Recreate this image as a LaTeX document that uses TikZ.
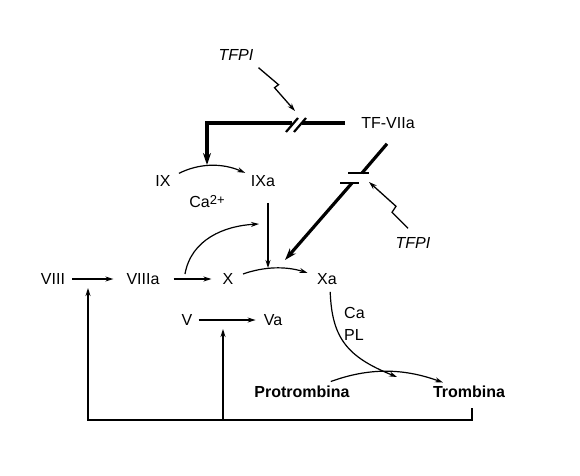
\documentclass[tikz,border=0pt]{standalone}
\usepackage{fontspec}
\setmainfont{Liberation Sans}
\usetikzlibrary{arrows.meta}

\begin{document}
\begin{tikzpicture}[
    x=1pt, y=1pt,
    lbl/.style={inner sep=1pt, font=\fontsize{16}{22}\selectfont},
    tfpi/.style={inner sep=1pt, font=\fontsize{16}{22}\selectfont\itshape},
    prod/.style={inner sep=1pt, font=\fontsize{16}{22}\selectfont\bfseries},
    arrow/.style={-{Stealth[length=8pt,width=5pt]}, line width=1.2pt},
    line/.style={line width=1.2pt},
    heavy/.style={line width=3.2pt},
    heavyarrow/.style={heavy, -{Stealth[length=12pt,width=8pt]}},
    zap/.style={-{Stealth[length=8pt,width=5pt]}, line width=1.3pt},
    cut/.style={line width=2.2pt}
  ]
    \useasboundingbox (0,0) rectangle (580,475);

    % factors
    \node[tfpi] (tfpiA) at (236,420) {TFPI};
    \node[lbl] (tfvii) at (388,352) {TF-VIIa};
    \node[tfpi] (tfpiB) at (413,232) {TFPI};
    \node[lbl] (ix) at (163,294) {IX};
    \node[lbl] (ixa) at (263,294) {IXa};
    \node[lbl, anchor=base] (ca) at (207,268) {Ca\raisebox{3pt}{\fontsize{13}{13}\selectfont 2+}};
    \node[lbl] (viii) at (53,196) {VIII};
    \node[lbl] (viiia) at (143,196) {VIIIa};
    \node[lbl] (fx) at (228,196) {X};
    \node[lbl] (xa) at (327,196) {Xa};
    \node[lbl] (v) at (187,155) {V};
    \node[lbl] (va) at (273,155) {Va};
    \node[lbl, align=left, anchor=west] (capl) at (343,151) {Ca\\PL};
    \node[prod] (protr) at (302,83) {Protrombina};
    \node[prod] (tromb) at (469,83) {Trombina};

    % free ends
    \coordinate (gapR) at (302,352);
    \coordinate (gapL) at (292,352);
    \coordinate (hook) at (207,352);
    \coordinate (ixin) at (207,310);
    \coordinate (cutA) at (295,364);
    \coordinate (cutU) at (362,302);
    \coordinate (cutD) at (352,292);
    \coordinate (xin) at (285,215);
    \coordinate (cutB) at (369,293);
    \coordinate (xaarc) at (268,207);
    \coordinate (viiiaup) at (185,201);
    \coordinate (ixaline) at (259,251);
    \coordinate (conv) at (397,98);
    \coordinate (fbR) at (472,55);
    \coordinate (fbL) at (88,55);
    \coordinate (fbM) at (223,55);
    \coordinate (viiiin) at (88,187);
    \coordinate (vin) at (223,146);

    % TF-VIIa -> IX, cut by TFPI
    \draw[heavy, shorten <=15pt] (tfvii.west) -- (gapR);
    \draw[heavyarrow] (gapL) -- (hook) -- (ixin);
    \draw[cut] (286,343) -- (298,357) (294,343) -- (306,357);
    \draw[zap] ([shift={(4pt,-6pt)}]tfpiA.south east) -- ++(20,-17) -- ++(-4,-3) -- (cutA);

    % TF-VIIa -> X, cut by TFPI
    \draw[heavy] ([xshift=-1pt, yshift=-14pt]tfvii.south) -- (cutU);
    \draw[cut] (348,302) -- (369,302) (340,292) -- (359,292);
    \draw[heavyarrow] (cutD) -- (xin);
    \draw[zap] ([shift={(-5pt,8pt)}]tfpiB.north) -- ++(-16,16) -- ++(4,6) -- (cutB);

    % cascade
    \draw[arrow, shorten <=8pt, shorten >=5pt] (ix) to[bend left=25] (ixa);
    \draw[arrow, shorten <=15pt] ([xshift=5pt]ixa.south) -- (xaarc);
    \draw[arrow, shorten <=6pt, shorten >=12pt] (viii) -- (viiia);
    \draw[arrow, shorten <=13pt, shorten >=10pt] (viiia) -- (fx);
    \draw[arrow] (viiiaup) to[out=80, in=183] (ixaline);
    \draw[arrow, shorten <=9pt, shorten >=9pt] (fx) to[bend left=18] (xa);
    \draw[arrow, shorten <=5pt, shorten >=7pt] (v) -- (va);
    \draw[arrow, shorten <=6pt] ([xshift=3pt]xa.south) to[out=-88, in=158, looseness=1.2] (conv);
    \draw[arrow, shorten <=10pt, shorten >=7pt] (protr) to[bend left=20] (tromb);

    % thrombin feedback
    \draw[arrow, shorten <=9pt] (tromb.south -| fbR) -- (fbR) -- (fbL) -- (viiiin);
    \draw[arrow] (fbM) -- (vin);
  \end{tikzpicture}
\end{document}
